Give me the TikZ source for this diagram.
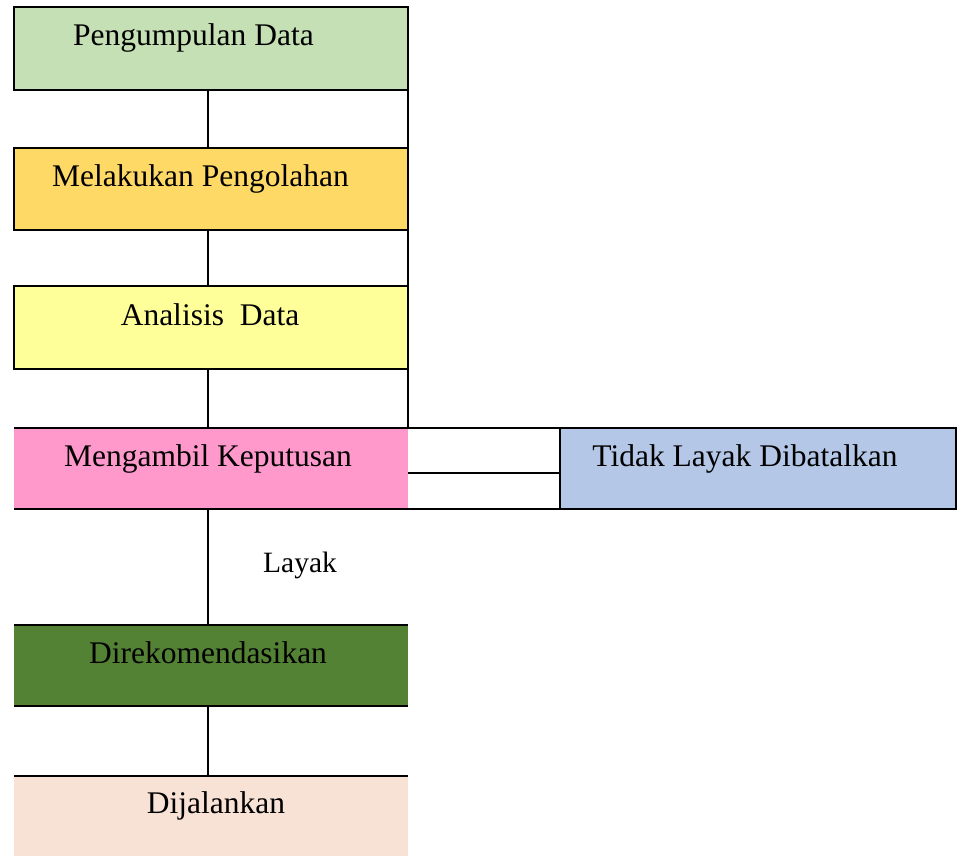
\documentclass[tikz,border=0pt]{standalone}
\usepackage{fontspec}
\setmainfont{Liberation Serif}
\definecolor{cGreen}{HTML}{C5E0B4}
\definecolor{cGold}{HTML}{FFD966}
\definecolor{cYellow}{HTML}{FFFF99}
\definecolor{cPink}{HTML}{FF99CC}
\definecolor{cBlue}{HTML}{B4C7E7}
\definecolor{cDark}{HTML}{548235}
\definecolor{cPeach}{HTML}{F8E1D5}
\begin{document}
\begin{tikzpicture}[x=1pt,y=-1pt,line width=2pt,
  box/.style={rectangle,inner sep=0pt,outer sep=0pt,minimum width=394pt,draw=none},
  lbl/.style={anchor=base,inner sep=0pt,font=\fontsize{31.5}{36}\selectfont},
  small/.style={anchor=base,inner sep=0pt,font=\fontsize{29.5}{34}\selectfont}]
\useasboundingbox (0,0) rectangle (962,856);
% boxes
\node[box,fill=cGreen,draw=black,minimum height=83pt] (b1) at (211,48.5) {};
\node[box,fill=cGold,draw=black,minimum height=82pt] (b2) at (211,189) {};
\node[box,fill=cYellow,draw=black,minimum height=83pt] (b3) at (211,327.5) {};
\node[box,fill=cPink,minimum height=81pt] (b4) at (211,468.5) {};
\node[box,fill=cBlue,draw=black,minimum width=396pt,minimum height=81pt] (b5) at (758,468.5) {};
\node[box,fill=cDark,minimum height=81pt] (b6) at (211,665.5) {};
\node[box,fill=cPeach,minimum height=80pt] (b7) at (211,816) {};
% partial borders
\draw (b4.north west) -- (b5.north east);
\draw (b4.south west) -- (b5.south east);
\draw ([yshift=-4pt]b4.east) -- ([yshift=-4pt]b5.west);
\draw (b1.south east) -- (b4.north east);
\draw (b6.north west) -- (b6.north east);
\draw (b6.south west) -- (b6.south east);
\draw (b7.north west) -- (b7.north east);
% spine connectors
\coordinate (sp) at (208,0);
\draw (b1.south -| sp) -- (b2.north -| sp);
\draw (b2.south -| sp) -- (b3.north -| sp);
\draw (b3.south -| sp) -- (b4.north -| sp);
\draw (b4.south -| sp) -- (b6.north -| sp);
\draw (b6.south -| sp) -- (b7.north -| sp);
% labels
\node[lbl] (t1) at (193.5,46) {Pengumpulan Data};
\node[lbl] (t2) at (200.5,187) {Melakukan Pengolahan};
\node[lbl] (t3) at (210,325) {Analisis\ \ Data};
\node[lbl] (t4) at (208,466) {Mengambil Keputusan};
\node[lbl] (t5) at (745,466) {Tidak Layak Dibatalkan};
\node[lbl] (t6) at (208,663) {Direkomendasikan};
\node[lbl] (t7) at (216,813) {Dijalankan};
\node[small] (t8) at (300,572) {Layak};
\end{tikzpicture}
\end{document}
